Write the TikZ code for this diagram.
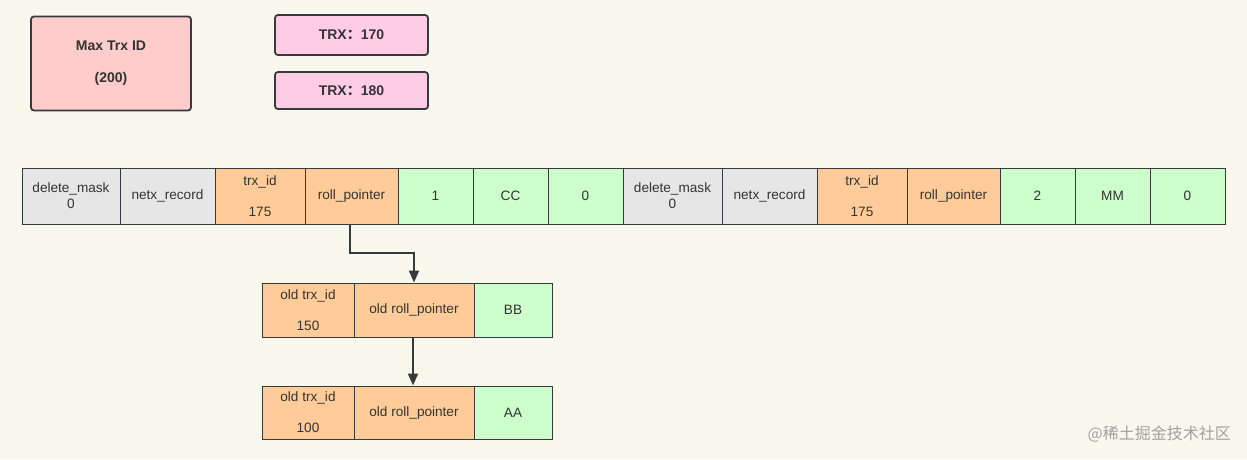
\documentclass[tikz,border=0pt]{standalone}
\usepackage{fontspec}
\setmainfont{Liberation Sans}
\newfontfamily\cjk{Noto Sans CJK SC}
\usetikzlibrary{arrows.meta}
\definecolor{bgc}{HTML}{F8F9EC}
\definecolor{linec}{HTML}{36393D}
\definecolor{grayc}{HTML}{E6E6E6}
\definecolor{orangec}{HTML}{FFCC99}
\definecolor{greenc}{HTML}{CCFFCC}
\definecolor{redc}{HTML}{FFCCCC}
\definecolor{pinkc}{HTML}{FFCCE6}
\definecolor{txtc}{HTML}{333333}
\definecolor{wmc}{HTML}{A0A0A0}
\tikzset{
  base/.style={draw=linec, line width=1pt, inner sep=0pt, align=center, text=txtc,
    font=\fontsize{13.6}{16}\selectfont},
  rowcell/.style={base, minimum height=56pt},
  undocell/.style={base, minimum height=54pt},
  gcell/.style={fill=grayc},
  ocell/.style={fill=orangec},
  vcell/.style={fill=greenc},
  topbox/.style={draw=linec, line width=1.8pt, rounded corners=3pt, inner sep=0pt, align=center,
    text=txtc, font=\fontsize{14}{16.8}\selectfont\bfseries},
  arr/.style={draw=linec, line width=2pt, -{Triangle[length=12pt,width=10pt]}},
}
\begin{document}
\begin{tikzpicture}[x=1pt,y=-1pt]
\fill[bgc] (0,0) rectangle (1247,459);
\useasboundingbox (0,0) rectangle (1247,459);

% top boxes
\node[topbox, fill=redc, minimum width=160pt, minimum height=94pt] (maxid) at (111,63.5) {Max Trx ID\\[15pt](200)};
\node[topbox, fill=pinkc, minimum width=153pt, minimum height=40pt] (t170) at (351.5,35) {TRX{\cjk ：}170};
\node[topbox, fill=pinkc, minimum width=153pt, minimum height=37pt] (t180) at (351.5,90.5) {TRX{\cjk ：}180};

% record row
\node[rowcell, gcell, minimum width=98pt] (dm1) at (71,196) {delete\_mask\\0};
\node[rowcell, gcell, minimum width=95pt] (nr1) at (167.5,196) {netx\_record};
\node[rowcell, ocell, minimum width=90pt] (ti1) at (260,196) {trx\_id\\[15pt]175};
\node[rowcell, ocell, minimum width=93pt] (rp1) at (351.5,196) {roll\_pointer};
\node[rowcell, vcell, minimum width=75pt] (va1) at (435.5,196) {1};
\node[rowcell, vcell, minimum width=75pt] (vb1) at (510.5,196) {CC};
\node[rowcell, vcell, minimum width=75pt] (vc1) at (585.5,196) {0};
\node[rowcell, gcell, minimum width=99pt] (dm2) at (672.5,196) {delete\_mask\\0};
\node[rowcell, gcell, minimum width=95pt] (nr2) at (769.5,196) {netx\_record};
\node[rowcell, ocell, minimum width=90pt] (ti2) at (862,196) {trx\_id\\[15pt]175};
\node[rowcell, ocell, minimum width=93pt] (rp2) at (953.5,196) {roll\_pointer};
\node[rowcell, vcell, minimum width=75pt] (va2) at (1037.5,196) {2};
\node[rowcell, vcell, minimum width=75pt] (vb2) at (1112.5,196) {MM};
\node[rowcell, vcell, minimum width=75pt] (vc2) at (1187.5,196) {0};

% undo record 1
\node[undocell, ocell, minimum width=92pt] (ot1) at (308,310) {old trx\_id\\[15pt]150};
\node[undocell, ocell, minimum width=120pt] (orp1) at (414,310) {old roll\_pointer};
\node[undocell, vcell, minimum width=78pt] (bb) at (513,310) {BB};

% undo record 2
\node[undocell, ocell, minimum width=92pt, minimum height=53pt] (ot2) at (308,412.5) {old trx\_id\\[15pt]100};
\node[undocell, ocell, minimum width=120pt, minimum height=53pt] (orp2) at (414,412.5) {old roll\_pointer};
\node[undocell, vcell, minimum width=78pt, minimum height=53pt] (aa) at (513,412.5) {AA};

% connectors
\draw[arr] ([xshift=-1.5pt]rp1.south) -- ++(0,28) -| (orp1.north);
\draw[arr] ([xshift=-1pt]orp1.south) -- ([xshift=-1pt]orp2.north);

% watermark
\node[anchor=east, inner sep=0pt, text=wmc, font=\cjk\fontsize{16}{18}\selectfont] (wm) at (1231,434) {@稀土掘金技术社区};
\end{tikzpicture}
\end{document}
